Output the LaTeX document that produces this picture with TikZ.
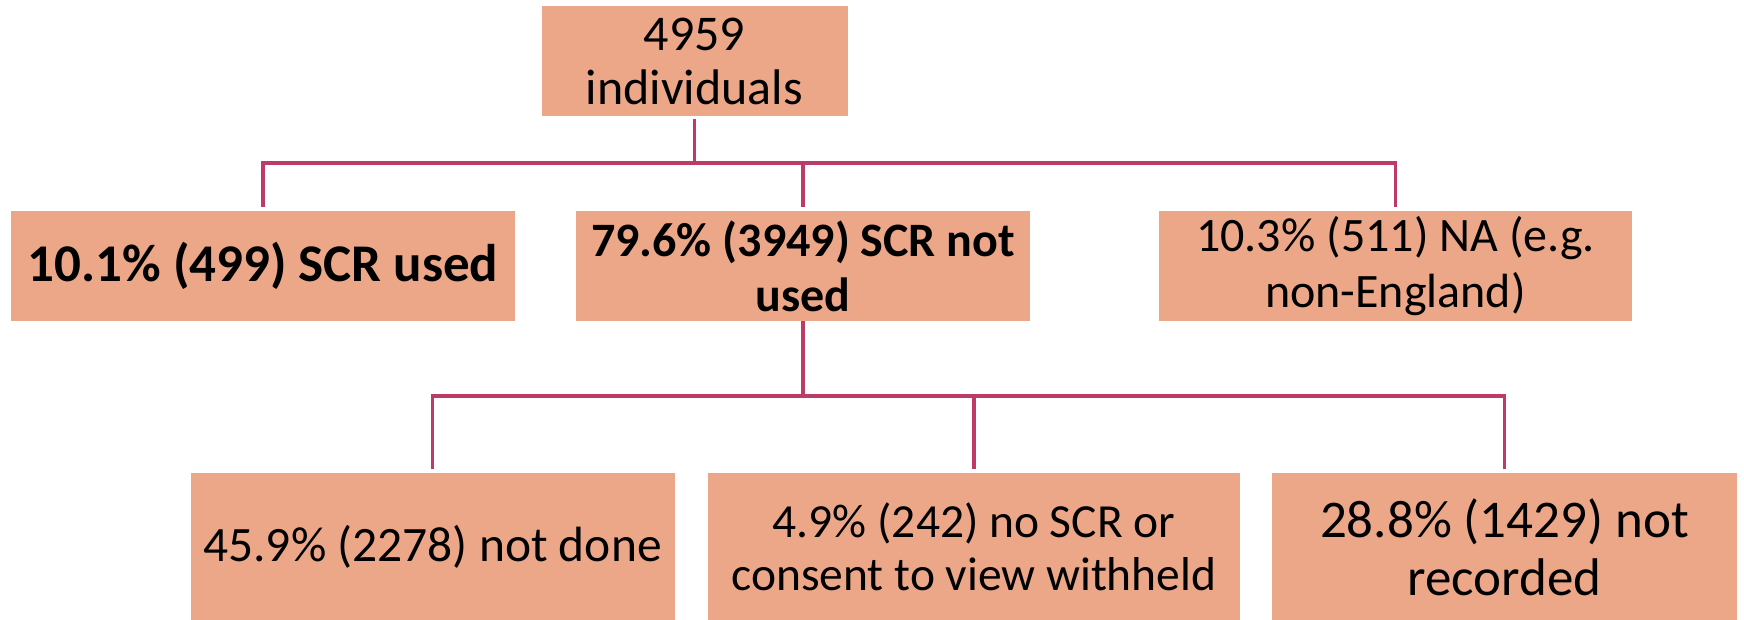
\documentclass[tikz,border=0pt]{standalone}
\usepackage{fontspec}
\setmainfont{Carlito}
\definecolor{boxfill}{RGB}{236,167,136}
\definecolor{linkcol}{RGB}{190,58,104}
\tikzset{
    box/.style={fill=boxfill, draw=none, align=center, inner sep=0pt},
    link/.style={draw=linkcol, line width=3.3pt},
}
\newcommand{\fsz}[2]{\fontsize{#1}{#2}\selectfont}

\begin{document}
\begin{tikzpicture}[x=1pt,y=-1pt]
    \useasboundingbox (0,0) rectangle (1744,620);
    % top
    \node[box, minimum width=306pt, minimum height=110pt, font=\fsz{50}{54}] (total) at (694.5,61) {4959\\individuals};
    % first split
    \node[box, minimum width=504pt, minimum height=110pt, font=\fsz{53}{55}\bfseries] (used) at (263,266) {10.1\% (499) SCR used};
    \node[box, minimum width=454pt, minimum height=110pt, font=\fsz{48}{55}\bfseries] (notused) at (803,266) {79.6\% (3949) SCR not\\used};
    \node[box, minimum width=473pt, minimum height=110pt, font=\fsz{48}{56}] (nav) at (1395.5,266) {10.3\% (511) NA (e.g.\\non-England)};
    % second split
    \node[box, minimum width=484pt, minimum height=148pt, font=\fsz{49.5}{55}] (done) at (432.5,547) {45.9\% (2278) not done};
    \node[box, minimum width=532pt, minimum height=148pt, font=\fsz{47.5}{53}] (noscr) at (974,547) {4.9\% (242) no SCR or\\consent to view withheld};
    \node[box, minimum width=465pt, minimum height=148pt, font=\fsz{53}{58}] (notrec) at (1504.5,547) {28.8\% (1429) not\\recorded};
    % connectors
    \coordinate (split1) at (694.5,163);
    \coordinate (split2) at (803,396);
    \draw[link] ([yshift=-3pt]total.south) -- (split1);
    \draw[link] ([yshift=4pt]used.north) |- (split1) -| ([yshift=4pt]nav.north);
    \draw[link] (split1 -| notused.north) -- ([yshift=4pt]notused.north);
    \draw[link] (notused.south) -- (split2);
    \draw[link] ([yshift=4pt]done.north) |- (split2) -| ([yshift=4pt]notrec.north);
    \draw[link] (split2 -| noscr.north) -- ([yshift=4pt]noscr.north);
\end{tikzpicture}
\end{document}
